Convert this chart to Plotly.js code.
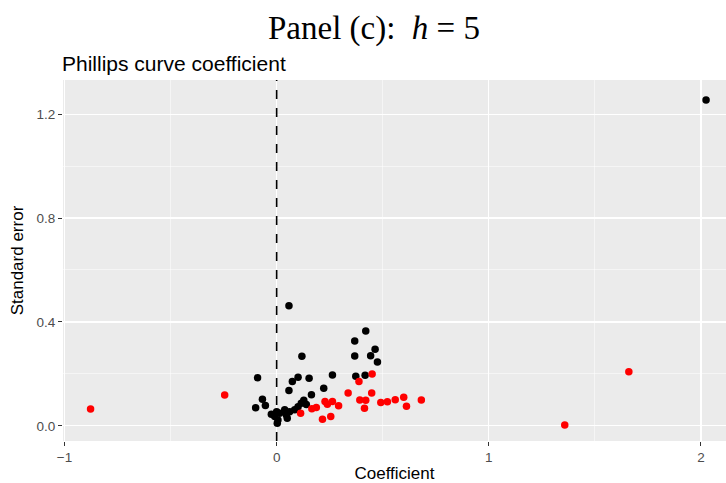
<!DOCTYPE html>
<html>
<head>
<meta charset="utf-8">
<script src="https://cdn.plot.ly/plotly-3.0.1.min.js"></script>
<style>html,body{margin:0;padding:0;background:#fff;}#chart{width:726px;height:483px;}</style>
</head>
<body>
<div id="chart"></div>
<script>
// Black points (coefficient, standard error)
const blackX = [2.024, 0.058, 0.420, 0.368, 0.464, 0.368, 0.443, 0.475, 0.119, -0.090, 0.074, 0.101, 0.153, 0.263, 0.373, 0.417, 0.058, 0.222, 0.164, -0.067, -0.053, -0.099, 0.128, 0.116, 0.140, 0.101, 0.085, 0.061, 0.038, 0.046, 0.014, 0.000, -0.025, -0.009, 0.050, 0.003, 0.006];
const blackY = [1.254, 0.462, 0.365, 0.327, 0.295, 0.269, 0.270, 0.246, 0.268, 0.185, 0.171, 0.187, 0.183, 0.196, 0.191, 0.195, 0.136, 0.145, 0.120, 0.103, 0.079, 0.070, 0.099, 0.087, 0.082, 0.074, 0.062, 0.055, 0.062, 0.042, 0.049, 0.055, 0.045, 0.036, 0.030, 0.010, 0.023];
// Red points
const redX = [-0.877, -0.245, 1.358, 1.660, 0.113, 0.166, 0.187, 0.228, 0.239, 0.263, 0.292, 0.216, 0.255, 0.450, 0.388, 0.337, 0.448, 0.392, 0.420, 0.414, 0.491, 0.522, 0.559, 0.599, 0.612, 0.682];
const redY = [0.065, 0.119, 0.004, 0.208, 0.049, 0.066, 0.071, 0.094, 0.083, 0.094, 0.078, 0.026, 0.036, 0.200, 0.171, 0.127, 0.127, 0.100, 0.099, 0.068, 0.090, 0.093, 0.101, 0.110, 0.076, 0.100];
const xTicks = [-1, 0, 1, 2];
const xTickText = ["\u22121", "0", "1", "2"];
const yTicks = [0, 0.4, 0.8, 1.2];
const yTickText = ["0.0", "0.4", "0.8", "1.2"];

const traces = [
  {x: blackX, y: blackY, mode: 'markers', type: 'scatter', marker: {color: '#000000', size: 7.5}, hoverinfo: 'skip'},
  {x: redX, y: redY, mode: 'markers', type: 'scatter', marker: {color: '#FF0000', size: 7.5}, hoverinfo: 'skip'}
];

const layout = {
  width: 726, height: 483,
  margin: {l: 63, r: 0, t: 80, b: 42},
  paper_bgcolor: '#ffffff',
  plot_bgcolor: '#EBEBEB',
  showlegend: false,
  font: {family: 'Liberation Sans, Arial, sans-serif', color: '#000'},
  title: {
    text: 'Panel (c):&nbsp; <i>h</i> = 5',
    font: {family: 'Liberation Serif, DejaVu Serif, serif', size: 33, color: '#000'},
    x: 374/726, xref: 'container', xanchor: 'center',
    y: 1 - 27/483, yref: 'container', yanchor: 'middle'
  },
  xaxis: {
    range: [-1.007, 2.118],
    tickvals: xTicks, ticktext: xTickText,
    ticks: 'outside', ticklen: 4, tickwidth: 1, tickcolor: '#333333',
    tickfont: {size: 13.5, color: '#4D4D4D'},
    showgrid: true, gridcolor: '#ffffff', gridwidth: 1.1,
    minor: {tickvals: [-0.5, 0.5, 1.5], showgrid: true, gridcolor: '#ffffff', gridwidth: 0.5, ticks: ''},
    zeroline: false, showline: false,
    title: {text: 'Coefficient', font: {size: 17, color: '#000'}, standoff: 4}
  },
  yaxis: {
    range: [-0.058, 1.331],
    tickvals: yTicks, ticktext: yTickText,
    ticks: 'outside', ticklen: 4, tickwidth: 1, tickcolor: '#333333',
    tickfont: {size: 13.5, color: '#4D4D4D'},
    showgrid: true, gridcolor: '#ffffff', gridwidth: 1.1,
    minor: {tickvals: [0.2, 0.6, 1.0], showgrid: true, gridcolor: '#ffffff', gridwidth: 0.5, ticks: ''},
    zeroline: false, showline: false,
    title: {text: 'Standard error', font: {size: 17, color: '#000'}, standoff: 8}
  },
  shapes: [
    {type: 'line', xref: 'x', yref: 'paper', x0: 0, x1: 0, y0: 0, y1: 1, line: {color: '#000000', width: 1.6, dash: 'dash'}, layer: 'above'}
  ],
  annotations: [
    {text: 'Phillips curve coefficient', xref: 'paper', yref: 'paper', x: 0, y: 1.045, xanchor: 'left', yanchor: 'middle', xshift: -3, showarrow: false, font: {size: 21, color: '#000'}}
  ]
};

Plotly.newPlot('chart', traces, layout, {displayModeBar: false, staticPlot: true});
</script>
</body>
</html>
